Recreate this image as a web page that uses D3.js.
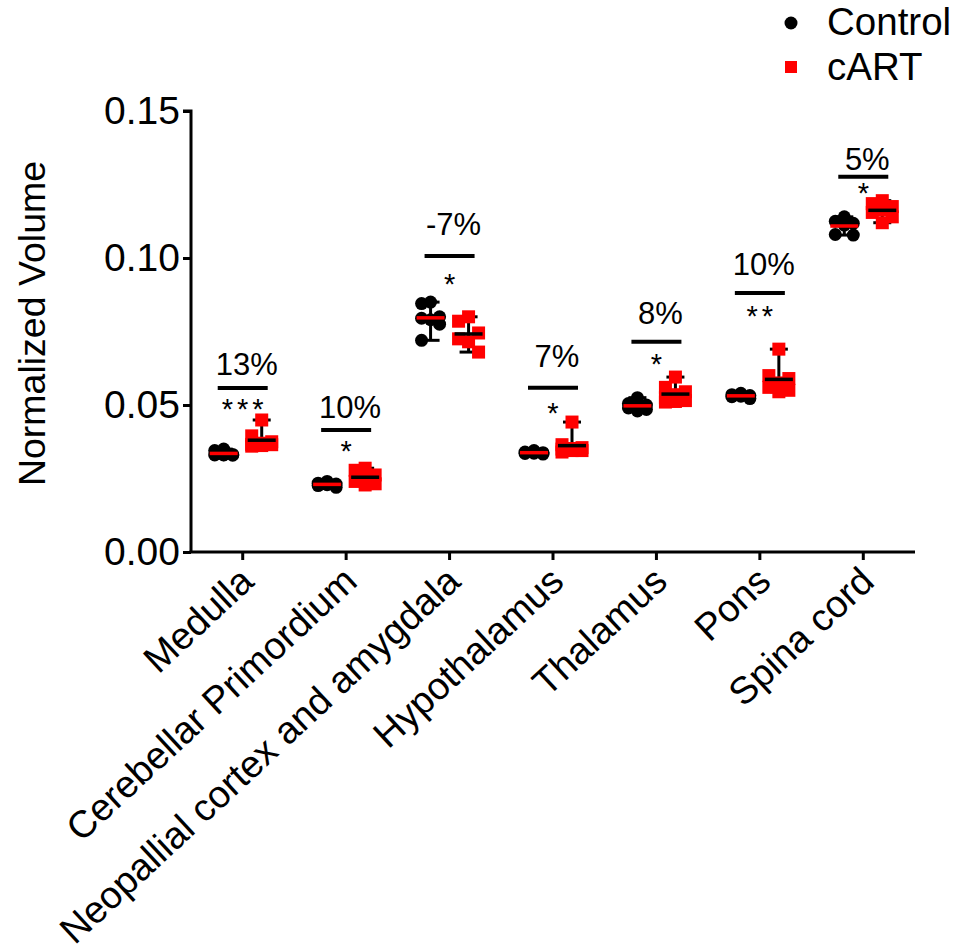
<!DOCTYPE html>
<html>
<head>
<meta charset="utf-8">
<script src="https://cdn.jsdelivr.net/npm/d3@7"></script>
<style>
  html, body { margin: 0; padding: 0; background: #fff; }
  svg text { font-family: Arial, "Liberation Sans", Helvetica, sans-serif; }
</style>
</head>
<body>
<svg id="chart" width="959" height="952"></svg>
<script>
// Brain region volumes, normalised to total volume
const categories = ["Medulla", "Cerebellar Primordium", "Neopallial cortex and amygdala",
  "Hypothalamus", "Thalamus", "Pons", "Spina cord"];

const controlValues = [
  [0.0350, 0.0345, 0.0331, 0.0330, 0.0329, 0.0332, 0.0330],
  [0.0240, 0.0234, 0.0231, 0.0229, 0.0226, 0.0220],
  [0.0850, 0.0845, 0.0800, 0.0795, 0.0790, 0.0775, 0.0720],
  [0.0345, 0.0340, 0.0338, 0.0336, 0.0335, 0.0333],
  [0.0525, 0.0505, 0.0500, 0.0495, 0.0490, 0.0480, 0.0485],
  [0.0540, 0.0535, 0.0532, 0.0530, 0.0528, 0.0522],
  [0.1140, 0.1125, 0.1118, 0.1112, 0.1080, 0.1078]
];

const cartValues = [
  [0.0449, 0.0395, 0.0375, 0.0365, 0.0362, 0.0360, 0.0370, 0.0366],
  [0.0285, 0.0278, 0.0262, 0.0255, 0.0240, 0.0232, 0.0228],
  [0.0800, 0.0785, 0.0745, 0.0725, 0.0715, 0.0680],
  [0.0442, 0.0365, 0.0355, 0.0350, 0.0345, 0.0340, 0.0345, 0.0352],
  [0.0595, 0.0560, 0.0545, 0.0535, 0.0525, 0.0515, 0.0510, 0.0512],
  [0.0690, 0.0600, 0.0590, 0.0575, 0.0560, 0.0550, 0.0545],
  [0.1195, 0.1185, 0.1175, 0.1165, 0.1155, 0.1140, 0.1120]
];

// Percent change of cART vs control and significance
const pctLabels = ["13%", "10%", "-7%", "7%", "8%", "10%", "5%"];
const sigStars = ["***", "*", "*", "*", "*", "**", "*"];
// Heights (in volume units) of the comparison bar, the percent text and the stars
const barLevels = [0.0558, 0.0415, 0.1007, 0.0559, 0.0715, 0.0881, 0.1276];
const pctLevels = [0.0602, 0.0456, 0.1078, 0.0629, 0.0776, 0.0942, 0.1299];
const starLevels = [0.0507, 0.0364, 0.0932, 0.0493, 0.0660, 0.0823, 0.1241];

const yTicks = [0, 0.05, 0.10, 0.15];
const seriesNames = ["Control", "cART"];

const svg = d3.select("#chart");
const x0 = 191, x1 = 915;

const x = d3.scaleBand().domain(categories).range([x0, x1]).padding(0);
const y = d3.scaleLinear().domain([0, 0.15]).range([552, 111]);
const sub = d3.scalePoint().domain(seriesNames).range([-19, 19]);

const red = "#ff0000";

// Axes
const yAxis = d3.axisLeft(y).tickValues(yTicks).tickFormat(d3.format(".2f")).tickSize(8).tickPadding(3);
const gy = svg.append("g").attr("transform", `translate(${x0},0)`).call(yAxis);
gy.select(".domain").attr("stroke", "#000").attr("stroke-width", 3).attr("d", `M-8,${y(0.15)}H0V${y(0)}`);
gy.selectAll(".tick line").attr("stroke", "#000").attr("stroke-width", 3);
gy.selectAll(".tick text").attr("font-size", 39).attr("fill", "#000")
  .attr("font-family", "Arial, 'Liberation Sans', sans-serif");

const xAxis = d3.axisBottom(x).tickSize(8).tickFormat("");
const gx = svg.append("g").attr("transform", `translate(0,${y(0)})`).call(xAxis);
gx.select(".domain").attr("stroke", "#000").attr("stroke-width", 3).attr("d", `M${x0 - 1.5},0H${x1}`);
gx.selectAll(".tick line").attr("stroke", "#000").attr("stroke-width", 3);

// Rotated category labels (baseline ends just below each tick)
svg.append("g").selectAll("text").data(categories).join("text")
  .attr("transform", d => `translate(${x(d) + x.bandwidth() / 2 + 13},${y(0) + 32}) rotate(-43)`)
  .attr("text-anchor", "end")
  .attr("font-size", 38)
  .text(d => d);

// Y title
svg.append("text")
  .attr("transform", `translate(45,${(y(0) + y(0.15)) / 2 - 8}) rotate(-90)`)
  .attr("text-anchor", "middle")
  .attr("font-size", 37.5)
  .text("Normalized Volume");

// Spread overlapping points across at most three columns
function dodge(vals, step) {
  const order = vals.map((v, i) => i).sort((a, b) => vals[b] - vals[a]);
  const placed = [];
  const offs = new Array(vals.length);
  for (const i of order) {
    const py = y(vals[i]);
    let best = 0, bestD = -1;
    for (const c of [0, -step, step]) {
      const d = placed.length ? d3.min(placed, p => Math.hypot(p.x - c, p.y - py)) : Infinity;
      if (d > bestD + 0.5) { bestD = d; best = c; }
    }
    offs[i] = best;
    placed.push({ x: best, y: py });
  }
  return offs;
}

const plot = svg.append("g");

categories.forEach((cat, gi) => {
  const cx = x(cat) + x.bandwidth() / 2;
  const groups = [
    { name: "Control", vals: controlValues[gi] },
    { name: "cART", vals: cartValues[gi] }
  ];
  groups.forEach(g => {
    const gxPos = cx + sub(g.name);
    const lo = d3.min(g.vals), hi = d3.max(g.vals), mean = d3.mean(g.vals);
    const gg = plot.append("g");
    // range whisker
    gg.append("line").attr("x1", gxPos).attr("x2", gxPos).attr("y1", y(lo)).attr("y2", y(hi))
      .attr("stroke", "#000").attr("stroke-width", 3);
    [lo, hi].forEach(v => gg.append("line")
      .attr("x1", gxPos - 9).attr("x2", gxPos + 9).attr("y1", y(v)).attr("y2", y(v))
      .attr("stroke", "#000").attr("stroke-width", 3));
    // points
    if (g.name === "Control") {
      const offs = dodge(g.vals, 9);
      gg.selectAll("circle").data(g.vals).join("circle")
        .attr("cx", (d, i) => gxPos + offs[i]).attr("cy", d => y(d)).attr("r", 6.5)
        .attr("fill", "#000");
    } else {
      const offs = dodge(g.vals, 10);
      const s = 13;
      gg.selectAll("rect").data(g.vals).join("rect")
        .attr("x", (d, i) => gxPos + offs[i] - s / 2).attr("y", d => y(d) - s / 2)
        .attr("width", s).attr("height", s).attr("fill", red);
    }
    // mean line
    gg.append("line").attr("x1", gxPos - 14).attr("x2", gxPos + 14).attr("y1", y(mean)).attr("y2", y(mean))
      .attr("stroke", g.name === "Control" ? red : "#000").attr("stroke-width", 3.5);
  });

  // comparison bar, percent change and stars
  svg.append("line").attr("x1", cx - 25).attr("x2", cx + 25)
    .attr("y1", y(barLevels[gi])).attr("y2", y(barLevels[gi]))
    .attr("stroke", "#000").attr("stroke-width", 4);
  svg.append("text").attr("x", cx + 4).attr("y", y(pctLevels[gi]))
    .attr("text-anchor", "middle").attr("font-size", 31).text(pctLabels[gi]);
  svg.append("text").attr("x", cx + 2).attr("y", y(starLevels[gi]) + 16)
    .attr("text-anchor", "middle").attr("font-size", 29).attr("letter-spacing", 4)
    .text(sigStars[gi]);
});

// Legend
const legend = svg.append("g");
legend.append("circle").attr("cx", 791).attr("cy", 23).attr("r", 6.5).attr("fill", "#000");
legend.append("rect").attr("x", 785).attr("y", 61).attr("width", 12).attr("height", 12).attr("fill", red);
legend.append("text").attr("x", 827).attr("y", 35).attr("font-size", 38.5).text(seriesNames[0]);
legend.append("text").attr("x", 827).attr("y", 80).attr("font-size", 38.5).text(seriesNames[1]);
</script>
</body>
</html>
